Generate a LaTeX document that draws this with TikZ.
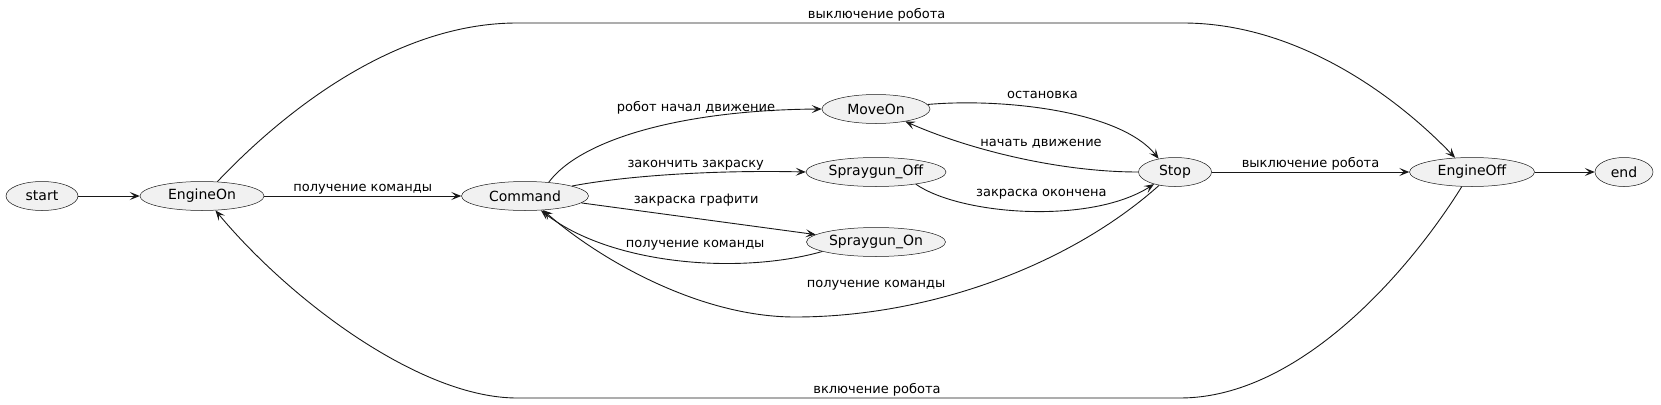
\documentclass[tikz,border=0pt]{standalone}
\usepackage{fontspec}
\setmainfont{DejaVu Sans}
\usetikzlibrary{shapes.geometric, arrows.meta}
\definecolor{stfill}{HTML}{F1F1F1}
\definecolor{stline}{HTML}{181818}
\begin{document}
\begin{tikzpicture}[x=1pt, y=-1pt,
        state/.style={ellipse, draw=stline, line width=0.5pt, fill=stfill, inner sep=0pt,
            minimum height=29pt, minimum width=#1, font=\fontsize{14}{16}\selectfont},
        arr/.style={-{Stealth[length=10pt, width=8pt, inset=4.5pt]}, draw=stline, line width=0.9pt},
        lbl/.style={font=\fontsize{13}{15}\selectfont, inner sep=1pt}]
    \useasboundingbox (0,0) rectangle (1661,404);

    % states
    \node (start) [state=72pt] at (42,196) {start};
    \node (engineon) [state=124pt] at (202,196) {EngineOn};
    \node (command) [state=127pt] at (525,196) {Command};
    \node (moveon) [state=108pt] at (876,109) {MoveOn};
    \node (sprayoff) [state=140pt] at (876,172) {Spraygun\_Off};
    \node (sprayon) [state=139pt] at (876,242) {Spraygun\_On};
    \node (stop) [state=73pt] at (1175,172) {Stop};
    \node (engineoff) [state=125pt] at (1472,172) {EngineOff};
    \node (finish) [state=58pt] at (1624,172) {end};

    % transitions
    \draw[arr] (start) -- (engineon);
    \draw[arr] (engineon) -- (command) node[lbl, midway, above] {получение команды};
    \draw[arr] (engineon.43) .. controls (290,105) and (400,23) .. (517,23) -- (1183,23)
        node[lbl, pos=0.54, above] {выключение робота}
        .. controls (1300,23) and (1400,100) .. (engineoff.140);
    \draw[arr] (engineoff.235) .. controls (1410,270) and (1300,398) .. (1180,398) -- (517,398)
        node[lbl, pos=0.457, above] {включение робота}
        .. controls (420,398) and (290,300) .. (engineon.313);

    \draw[arr] (command.30) .. controls (580,140) and (680,110) .. (moveon.west)
        node[lbl, pos=0.67, above=3.5pt] {робот начал движение};
    \draw[arr] (command.12) .. controls (630,175) and (720,170) .. (sprayoff.west)
        node[lbl, pos=0.57, above=2pt] {закончить закраску};
    \draw[arr] (command.-7) -- (sprayon.173) node[lbl, pos=0.49, above=10.5pt] {закраска графити};
    \draw[arr] (sprayon.190) .. controls (740,275) and (610,265) .. (command.318)
        node[lbl, pos=0.44, above=10.5pt] {получение команды};
    \draw[arr] (stop.220) .. controls (1070,265) and (930,317) .. (795,317)
        node[lbl, pos=0.8, above=19pt] {получение команды}
        .. controls (700,317) and (600,260) .. (command.322);

    \draw[arr] (moveon.5) .. controls (1000,98) and (1120,110) .. (stop.141)
        node[lbl, pos=0.45, above=8pt] {остановка};
    \draw[arr] (stop.west) .. controls (1060,172) and (970,150) .. (moveon.337)
        node[lbl, pos=0.4, above=13pt] {начать движение};
    \draw[arr] (sprayoff.343) .. controls (960,215) and (1090,225) .. (stop.210)
        node[lbl, pos=0.55, above=10pt] {закраска окончена};

    \draw[arr] (stop) -- (engineoff) node[lbl, midway, above] {выключение робота};
    \draw[arr] (engineoff) -- (finish);
\end{tikzpicture}
\end{document}
